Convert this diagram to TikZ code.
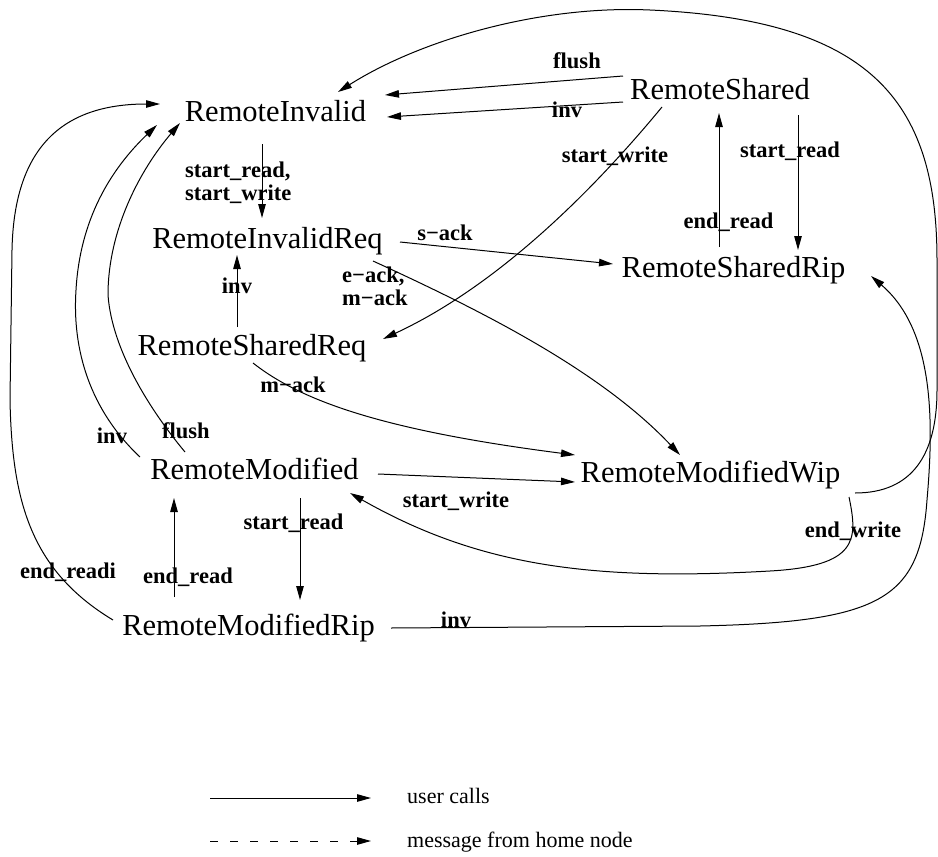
\documentclass[tikz,border=0pt]{standalone}
\usepackage{fontspec}
\setmainfont{Liberation Serif}
\usetikzlibrary{arrows.meta}

\tikzset{
  state/.style={font=\rmfamily\fontsize{30.5}{36}\selectfont, inner sep=0pt, anchor=base},
  lbl/.style={font=\rmfamily\bfseries\fontsize{22.5}{23}\selectfont, inner sep=0pt, anchor=base},
  lbltwo/.style={font=\rmfamily\bfseries\fontsize{22.5}{23}\selectfont, inner sep=0pt, anchor=north west, align=left},
  legendtext/.style={font=\rmfamily\fontsize{22}{26}\selectfont, inner sep=0pt, anchor=base west},
  arr/.style={-{Triangle[length=14pt,width=7.5pt]}, line width=1pt},
  msg/.style={arr, dash pattern=on 8pt off 12pt}
}

\begin{document}
\begin{tikzpicture}[x=1pt,y=-1pt]
\useasboundingbox (0,0) rectangle (938,857);

% states
\node[state] (ri)    at (275.5,121) {RemoteInvalid};
\node[state] (rs)    at (720,99)    {RemoteShared};
\node[state] (rir)   at (267.5,248) {RemoteInvalidReq};
\node[state] (rsrip) at (733.5,277) {RemoteSharedRip};
\node[state] (rsreq) at (252,355)   {RemoteSharedReq};
\node[state] (rm)    at (254.5,479) {RemoteModified};
\node[state] (rmw)   at (710.5,482) {RemoteModifiedWip};
\node[state] (rmr)   at (248.5,635) {RemoteModifiedRip};

% RemoteShared -> RemoteInvalid
\draw[arr] ([shift={(-97,-23)}]rs.base) -- ([shift={(109.5,-26)}]ri.base);
\node[lbl] (lflushtop) at (577,68) {flush};
\draw[arr] ([shift={(-97,3)}]rs.base) -- ([shift={(111.5,-4)}]ri.base);
\node[lbl] (linvtop) at (567,117) {inv};

% RemoteModifiedWip -> RemoteInvalid, around the right and over the top
\draw[arr] ([shift={(144.5,11)}]rmw.base)
  .. controls (912,493) and (937,455) .. (937,390) -- (937,260)
  .. controls (937,100) and (870,20) .. (650,10)
  .. controls (540,5) and (420,40) .. ([shift={(62.5,-29)}]ri.base);

% RemoteShared -> RemoteSharedReq
\draw[arr] ([shift={(-58,8)}]rs.base)
  .. controls (610,170) and (510,280) .. ([shift={(131,-16)}]rsreq.base);
\node[lbl] (lswtop) at (615,162) {start\_write};

% RemoteShared <-> RemoteSharedRip
\draw[arr] ([shift={(78,16)}]rs.base) -- ([shift={(64.5,-27)}]rsrip.base);
\node[lbl] (lsrtop) at (790,157) {start\_read};
\draw[arr] ([shift={(-14.5,-30)}]rsrip.base) -- ([shift={(-1,14)}]rs.base);
\node[lbl] (lertop) at (728.5,228) {end\_read};

% RemoteInvalid -> RemoteInvalidReq
\draw[arr] ([shift={(-13.5,23)}]ri.base) -- ([shift={(-5.5,-30)}]rir.base);
\node[lbltwo] (lstart) at (185,162) {start\_read,\\start\_write};

% RemoteSharedReq -> RemoteInvalidReq
\draw[arr] ([shift={(-15,-28)}]rsreq.base) -- ([shift={(-30.5,7)}]rir.base);
\node[lbl] (linvmid) at (237,293) {inv};

% RemoteInvalidReq -> RemoteSharedRip
\draw[arr] ([shift={(132.5,-6)}]rir.base) -- ([shift={(-120.5,-13)}]rsrip.base);
\node[lbl] (lsack) at (445,240) {s−ack};

% RemoteInvalidReq -> RemoteModifiedWip
\draw[arr] ([shift={(105.5,13)}]rir.base)
  .. controls (480,310) and (600,370) .. ([shift={(-30.5,-27)}]rmw.base);
\node[lbltwo] (leack) at (342,267) {e−ack,\\m−ack};

% RemoteSharedReq -> RemoteModifiedWip
\draw[arr] ([shift={(1,8)}]rsreq.base)
  .. controls (300,400) and (380,430) .. ([shift={(-135.5,-27)}]rmw.base);
\node[lbl] (lmack) at (293,392) {m−ack};

% RemoteModified <-> RemoteModifiedWip
\draw[arr] ([shift={(123.5,-5)}]rm.base) -- ([shift={(-135.5,0)}]rmw.base);
\node[lbl] (lswbot) at (456,507) {start\_write};
\draw[arr] ([shift={(138.5,15)}]rmw.base)
  .. controls (858,540) and (858,566) .. (770,571)
  .. controls (594,581) and (480,567) .. ([shift={(95.5,14)}]rm.base);
\node[lbl] (lewrite) at (853,537) {end\_write};

% RemoteModifiedRip -> RemoteSharedRip
\draw[arr] ([shift={(142.5,-7)}]rmr.base) -- (700,626)
  .. controls (880,622) and (920,600) .. (927,500)
  .. controls (934,420) and (934,330) .. ([shift={(137.5,-1)}]rsrip.base);
\node[lbl] (linvbot) at (456,627) {inv};

% left-hand returns to RemoteInvalid
\draw[arr] ([shift={(-135.5,-15)}]rmr.base)
  .. controls (30,570) and (12,500) .. (10,400) -- (12,250)
  .. controls (14,150) and (60,104) .. ([shift={(-115.5,-17)}]ri.base);
\node[lbl] (lendreadi) at (68,578) {end\_readi};

\draw[arr] ([shift={(-114.5,-22)}]rm.base)
  .. controls (90,410) and (72,350) .. (76,290)
  .. controls (80,220) and (110,170) .. ([shift={(-118.5,4)}]ri.base);
\node[lbl] (linvleft) at (112,443) {inv};

\draw[arr] ([shift={(-69.5,-27)}]rm.base)
  .. controls (150,410) and (112,350) .. (108,295)
  .. controls (108,230) and (140,170) .. ([shift={(-95.5,2)}]ri.base);
\node[lbl] (lflushleft) at (186,438) {flush};

% RemoteModified <-> RemoteModifiedRip
\draw[arr] ([shift={(-74.5,-38)}]rmr.base) -- ([shift={(-80.5,19)}]rm.base);
\node[lbl] (lerleft) at (188,583) {end\_read};
\draw[arr] ([shift={(45.5,19)}]rm.base) -- ([shift={(51.5,-35)}]rmr.base);
\node[lbl] (lsrleft) at (293.5,529) {start\_read};

% legend
\coordinate (ua) at (210,798);
\coordinate (ub) at (371,798);
\draw[arr] (ua) -- (ub);
\node[legendtext] (luser) at (407,803) {user calls};
\coordinate (ma) at (210,841);
\coordinate (mb) at (371,841);
\draw[msg] (ma) -- (mb);
\node[legendtext] (lmsg) at (407,847) {message from home node};
\end{tikzpicture}
\end{document}
